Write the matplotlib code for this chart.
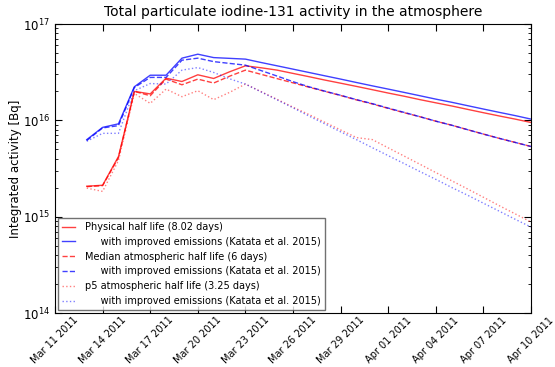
import datetime
import matplotlib
matplotlib.use('Agg')
import matplotlib.pyplot as plt
import matplotlib.dates as mdates
from matplotlib.ticker import LogLocator

# Daily values, Mar 13 2011 .. Apr 10 2011 (29 days)
start_day = datetime.datetime(2011, 3, 13)
days = [start_day + datetime.timedelta(days=i) for i in range(29)]

phys = [2.07e15, 2.12e15, 4.21e15, 2.0e16, 1.88e16, 2.74e16, 2.53e16, 2.97e16, 2.72e16, 3.19e16,
        3.68e16, 3.51e16, 3.32e16, 3.07e16, 2.84e16, 2.62e16, 2.43e16, 2.25e16, 2.08e16, 1.92e16,
        1.78e16, 1.64e16, 1.52e16, 1.41e16, 1.30e16, 1.20e16, 1.11e16, 1.03e16, 9.5e15]
phys_katata = [6.3e15, 8.45e15, 9.2e15, 2.23e16, 2.94e16, 2.94e16, 4.42e16, 4.86e16, 4.48e16, 4.4e16,
               4.32e16, 3.98e16, 3.68e16, 3.40e16, 3.14e16, 2.90e16, 2.68e16, 2.47e16, 2.28e16, 2.11e16,
               1.95e16, 1.80e16, 1.66e16, 1.54e16, 1.42e16, 1.31e16, 1.21e16, 1.12e16, 1.03e16]
median = [2.05e15, 2.1e15, 4.1e15, 2.0e16, 1.80e16, 2.68e16, 2.34e16, 2.68e16, 2.44e16, 2.87e16,
          3.32e16, 3.00e16, 2.71e16, 2.45e16, 2.21e16, 2.00e16, 1.81e16, 1.63e16, 1.48e16, 1.33e16,
          1.20e16, 1.09e16, 9.8e15, 8.9e15, 8.0e15, 7.2e15, 6.5e15, 5.9e15, 5.35e15]
median_katata = [6.17e15, 8.34e15, 8.81e15, 2.19e16, 2.79e16, 2.79e16, 4.21e16, 4.42e16, 4.07e16, 3.90e16,
                 3.74e16, 3.28e16, 2.88e16, 2.52e16, 2.23e16, 2.01e16, 1.82e16, 1.64e16, 1.49e16, 1.34e16,
                 1.21e16, 1.09e16, 9.8e15, 8.9e15, 8.0e15, 7.2e15, 6.5e15, 5.9e15, 5.35e15]
p5 = [1.98e15, 1.83e15, 3.83e15, 1.90e16, 1.50e16, 2.11e16, 1.76e16, 2.03e16, 1.64e16, 1.95e16,
      2.38e16, 1.98e16, 1.65e16, 1.37e16, 1.15e16, 9.55e15, 7.95e15, 6.62e15, 6.31e15, 5.18e15,
      4.26e15, 3.50e15, 2.87e15, 2.36e15, 1.94e15, 1.59e15, 1.30e15, 1.07e15, 8.8e14]
p5_katata = [6.06e15, 7.33e15, 7.33e15, 2.03e16, 2.41e16, 2.38e16, 3.32e16, 3.53e16, 3.14e16, 2.70e16,
             2.38e16, 1.97e16, 1.63e16, 1.35e16, 1.11e16, 9.2e15, 7.6e15, 6.3e15, 5.2e15, 4.3e15,
             3.56e15, 2.94e15, 2.44e15, 2.01e15, 1.67e15, 1.38e15, 1.14e15, 9.4e14, 7.8e14]

fig = plt.figure(figsize=(5.55, 3.67), dpi=100)
ax = fig.add_axes([0.0991, 0.1471, 0.8577, 0.7875])

kat = '     with improved emissions (Katata et al. 2015)'
ax.plot(days, phys, color='r', ls='-', lw=1, alpha=0.75, label='Physical half life (8.02 days)')
ax.plot(days, phys_katata, color='b', ls='-', lw=1, alpha=0.75, label=kat)
ax.plot(days, median, color='r', ls='--', lw=1, alpha=0.75, label='Median atmospheric half life (6 days)')
ax.plot(days, median_katata, color='b', ls='--', lw=1, alpha=0.75, label=kat)
ax.plot(days, p5, color='r', ls=':', lw=1, alpha=0.5, label='p5 atmospheric half life (3.25 days)')
ax.plot(days, p5_katata, color='b', ls=':', lw=1, alpha=0.5, label=kat)

ax.set_yscale('log')
ax.set_ylim(1e14, 1e17)
ax.set_xlim(datetime.datetime(2011, 3, 11), datetime.datetime(2011, 4, 10))
ax.yaxis.set_minor_locator(LogLocator(base=10, subs=range(2, 10)))

ticks = [datetime.datetime(2011, 3, 11) + datetime.timedelta(days=3 * i) for i in range(11)]
ax.set_xticks(ticks)
ax.xaxis.set_major_formatter(mdates.DateFormatter('%b %d %Y'))
plt.setp(ax.get_xticklabels(), rotation=45, ha='center', fontsize=7)
plt.setp(ax.get_yticklabels(), fontsize=8.5)

ax.tick_params(which='both', direction='in', top=True, right=True)
ax.tick_params(which='major', length=5)
ax.tick_params(which='minor', length=2.5)
ax.tick_params(axis='x', pad=1.5)

ax.set_ylabel('Integrated activity [Bq]', fontsize=8.5)
ax.yaxis.set_label_coords(-0.07, 0.5)
ax.set_title('Total particulate iodine-131 activity in the atmosphere', fontsize=10)

leg = ax.legend(loc='lower left', fontsize=7, fancybox=False, borderaxespad=0.3,
                handlelength=1.4, handletextpad=1.0, labelspacing=0.5)
leg.get_frame().set_edgecolor('0.3')

fig.savefig('out.png', dpi=100)
